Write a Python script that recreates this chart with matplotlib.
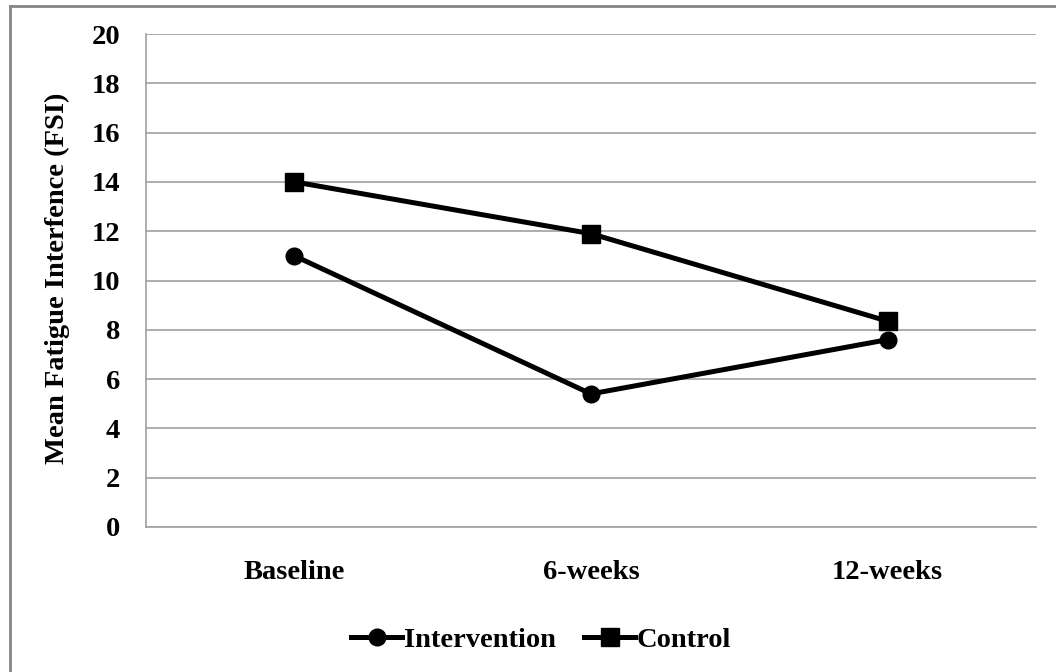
import matplotlib
matplotlib.use("Agg")
import matplotlib.pyplot as plt
from matplotlib.lines import Line2D

# Fatigue interference scores by time point
timepoints = ["Baseline", "6-weeks", "12-weeks"]
intervention = [11.0, 5.4, 7.6]
control = [14.0, 11.9, 8.35]
y_ticks = [0, 2, 4, 6, 8, 10, 12, 14, 16, 18, 20]

plt.rcParams["font.family"] = ["Liberation Serif", "DejaVu Serif"]
plt.rcParams["font.weight"] = "bold"
FS = 20.5

fig = plt.figure(figsize=(10.56, 6.72), dpi=100)
ax = fig.add_axes([146 / 1056, 1 - 527 / 672, (1036 - 146) / 1056, (527 - 34) / 672])

x = list(range(len(timepoints)))
ax.plot(x, intervention, color="black", lw=3.6, marker="o", ms=12,
        label="Intervention", solid_joinstyle="round")
ax.plot(x, control, color="black", lw=3.6, marker="s", ms=12.5,
        label="Control", solid_joinstyle="round")

ax.set_xlim(-0.5, len(timepoints) - 0.5)
ax.set_ylim(0, 20)
ax.set_yticks(y_ticks)
ax.set_yticklabels([str(v) for v in y_ticks], fontsize=FS, fontweight="bold")
ax.set_xticks(x)
ax.set_xticklabels(timepoints, fontsize=FS, fontweight="bold")
ax.tick_params(axis="both", length=0)
ax.tick_params(axis="y", pad=18.5)
ax.tick_params(axis="x", pad=24)

ax.grid(axis="y", color="#a0a0a0", lw=1.2)
ax.set_axisbelow(True)
for side in ["top", "right"]:
    ax.spines[side].set_visible(False)
for side in ["left", "bottom"]:
    ax.spines[side].set_color("#a0a0a0")
    ax.spines[side].set_linewidth(1.2)

ax.set_ylabel("Mean Fatigue Interfence (FSI)", fontsize=FS, fontweight="bold")
ax.yaxis.set_label_coords(70 / 1056, 1 - 278 / 672, transform=fig.transFigure)

handles = [
    Line2D([], [], color="black", lw=3.6, marker="o", ms=12),
    Line2D([], [], color="black", lw=3.6, marker="s", ms=12.5),
]
fig.legend(handles, ["Intervention", "Control"], loc="center",
           bbox_to_anchor=(541 / 1056, 1 - 640 / 672), ncol=2, frameon=False,
           prop={"size": FS, "weight": "bold"}, handlelength=1.8,
           handletextpad=0.05, columnspacing=1.0, borderpad=0)

# Outer chart frame
fig.add_artist(Line2D([10 / 1056, 10 / 1056], [0, 1 - 6 / 672],
                      transform=fig.transFigure, color="#858585", lw=2))
fig.add_artist(Line2D([10 / 1056, 1], [1 - 6 / 672, 1 - 6 / 672],
                      transform=fig.transFigure, color="#858585", lw=2))

fig.savefig("out.png", dpi=100)
